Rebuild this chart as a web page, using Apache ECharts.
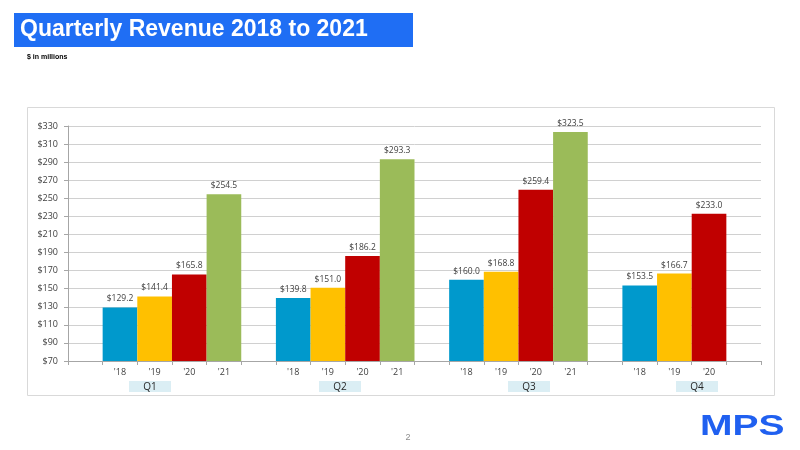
<!DOCTYPE html>
<html><head><meta charset="utf-8">
<script src="https://cdn.jsdelivr.net/npm/echarts@6/dist/echarts.min.js"></script>
<style>html,body{margin:0;padding:0;background:#fff}#c{width:800px;height:450px}</style>
</head><body><div id="c"></div>
<script>
const years = ["'18", "'19", "'20", "'21"];
const quarters = ["Q1", "Q2", "Q3", "Q4"];
const q1 = [129.2, 141.4, 165.8, 254.5];
const q2 = [139.8, 151.0, 186.2, 293.3];
const q3 = [160.0, 168.8, 259.4, 323.5];
const q4 = [153.5, 166.7, 233.0];
const yTicks = { min: 70, max: 330, interval: 20 };

const yearColors = ['#0099CC', '#FFC000', '#C00000', '#9BBB59'];
const groups = [q1, q2, q3, q4];
const cats = [], vals = [];
groups.forEach(g => {
  cats.push('');
  vals.push('-');
  years.forEach((y, i) => {
    if (i < g.length) {
      cats.push(y);
      vals.push({ value: g[i], itemStyle: { color: yearColors[i] } });
    } else {
      cats.push('');
      vals.push('-');
    }
  });
});

const qPos = [150, 340, 529, 697];
const chart = echarts.init(document.getElementById('c'));
const txtFont = "'Open Sans', 'Noto Sans', sans-serif";
chart.setOption({
  animation: false,
  grid: { left: 68, right: 39, top: 126, bottom: 89, containLabel: false },
  xAxis: {
    type: 'category', data: cats,
    axisLine: { lineStyle: { color: '#a6a6a6' } },
    axisTick: { show: true, interval: 0, length: 4, lineStyle: { color: '#a6a6a6' } },
    axisLabel: { interval: 0, color: '#404040', fontSize: 9, fontFamily: txtFont, margin: 7 }
  },
  yAxis: {
    type: 'value', min: yTicks.min, max: yTicks.max, interval: yTicks.interval,
    axisLine: { show: true, lineStyle: { color: '#a6a6a6' } },
    axisTick: { show: true, length: 4, lineStyle: { color: '#a6a6a6' } },
    splitLine: { lineStyle: { color: '#d0d0d0' } },
    axisLabel: { color: '#404040', fontSize: 9, fontFamily: txtFont, margin: 10,
      formatter: v => '$' + v }
  },
  series: [{
    type: 'bar', data: vals, barCategoryGap: '0%',
    label: { show: true, position: 'top', distance: 4, color: '#404040', fontSize: 8.5, fontFamily: txtFont,
      formatter: p => '$' + Number(p.value).toFixed(1) }
  }],
  graphic: [
    { type: 'rect', shape: { x: 27.5, y: 107.5, width: 747, height: 288 }, style: { fill: 'none', stroke: '#d9d9d9', lineWidth: 1 }, z: -1 },
    { type: 'rect', shape: { x: 14, y: 13, width: 399, height: 34 }, style: { fill: '#1f6ef4' } },
    { type: 'text', x: 20, y: 30, style: { text: 'Quarterly Revenue 2018 to 2021', fill: '#fff', font: "bold 23px 'Liberation Sans', Arial, sans-serif", textVerticalAlign: 'middle' } },
    { type: 'text', x: 27, y: 57, style: { text: '$ in millions', fill: '#000', font: "bold 7px 'Liberation Sans', Arial, sans-serif", textVerticalAlign: 'middle' } },
    { type: 'text', x: 408, y: 438, style: { text: '2', fill: '#8c8c8c', font: "9px 'Liberation Sans', Arial, sans-serif", textAlign: 'center', textVerticalAlign: 'middle' } },
    { type: 'text', x: 700, y: 427, scaleX: 1.3, style: { text: 'MPS', fill: '#2060f0', font: "900 30px 'Liberation Sans', Arial, sans-serif", textVerticalAlign: 'middle' } }
  ].concat(quarters.map((q, i) => ({
    type: 'group', children: [
      { type: 'rect', shape: { x: qPos[i] - 21, y: 381, width: 42, height: 11 }, style: { fill: '#dbeef4' } },
      { type: 'text', x: qPos[i], y: 387, style: { text: q, fill: '#262626', font: "10px 'Open Sans', 'Noto Sans', sans-serif", textAlign: 'center', textVerticalAlign: 'middle' } }
    ]
  })))
});
</script></body></html>
